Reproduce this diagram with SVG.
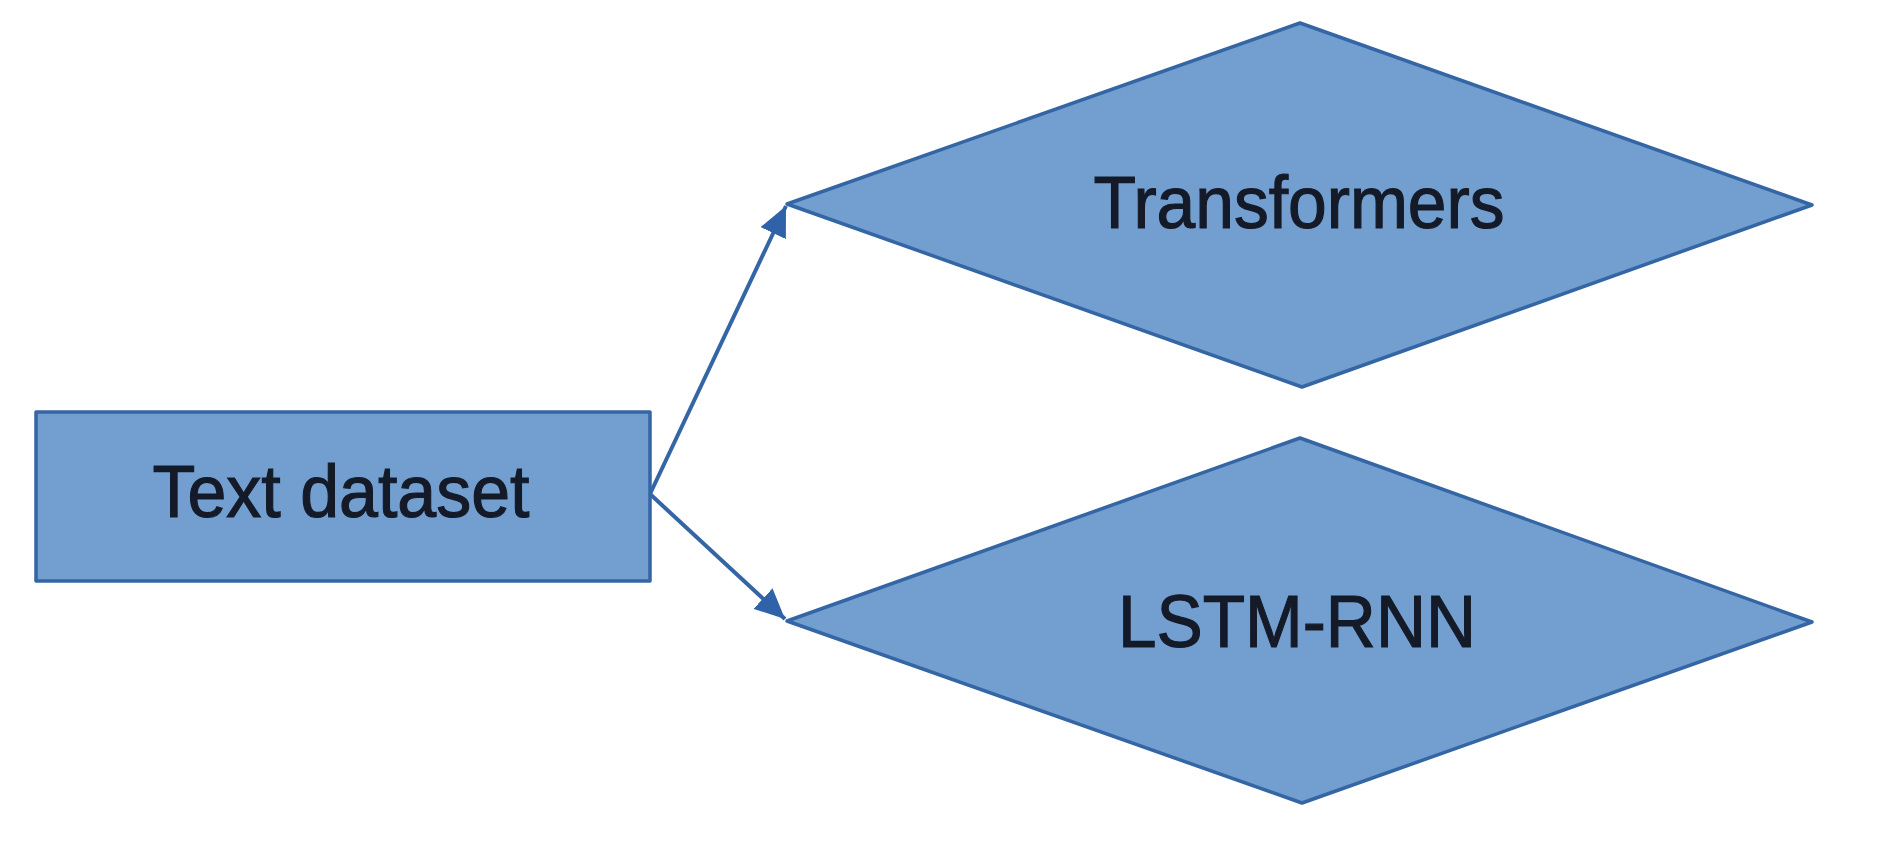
<svg xmlns="http://www.w3.org/2000/svg" width="1884" height="850" viewBox="0 0 1884 850">
  <style>
    .shape { fill: #729fcf; stroke: #3465a4; stroke-width: 3.5; stroke-linejoin: round; }
    .label { font-family: "Liberation Sans", Arial, sans-serif; font-size: 75px; fill: #141a28; stroke: #141a28; stroke-width: 1.2; text-anchor: middle; }
    .conn { stroke: #3465a4; stroke-width: 4; fill: none; }
  </style>
  <defs>
    <marker id="arrow" markerUnits="userSpaceOnUse" markerWidth="32" markerHeight="28" refX="30" refY="14" orient="auto">
      <path d="M0,0 L30,14 L0,28 Z" fill="#2f62a8"/>
    </marker>
  </defs>
  <rect width="1884" height="850" fill="#ffffff"/>
  <g id="connectors">
    <line class="conn" x1="650" y1="494" x2="786" y2="206" marker-end="url(#arrow)"/>
    <line class="conn" x1="650" y1="494" x2="785" y2="619" marker-end="url(#arrow)"/>
  </g>
  <g id="node-text-dataset">
    <rect class="shape" x="36" y="412" width="614" height="169"/>
    <text class="label" x="341" y="517" textLength="377" lengthAdjust="spacingAndGlyphs">Text dataset</text>
  </g>
  <g id="node-transformers">
    <polygon class="shape" points="787,204 1300,23 1812,205 1302,387"/>
    <text class="label" x="1299" y="228" textLength="411" lengthAdjust="spacingAndGlyphs">Transformers</text>
  </g>
  <g id="node-lstm-rnn">
    <polygon class="shape" points="787,621 1300,438 1812,622 1302,803"/>
    <text class="label" x="1297" y="647" textLength="358" lengthAdjust="spacingAndGlyphs">LSTM-RNN</text>
  </g>
</svg>
